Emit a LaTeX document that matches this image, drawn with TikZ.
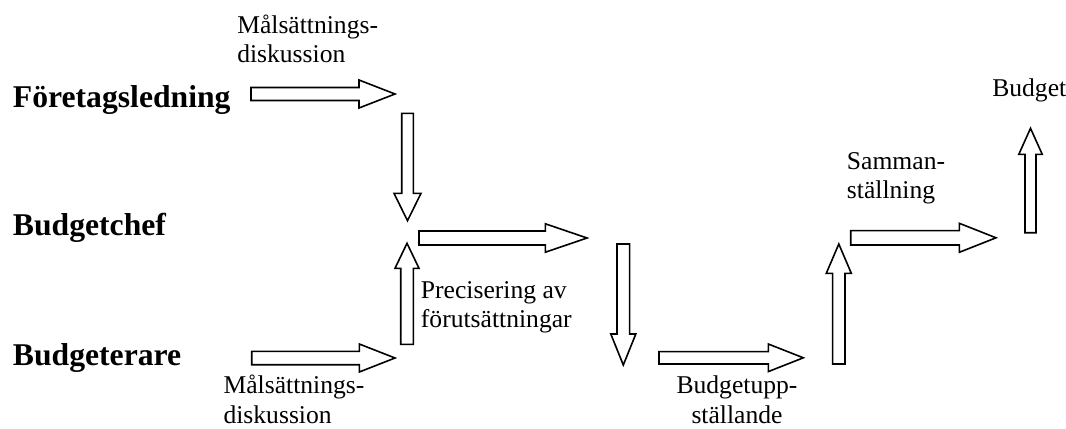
\documentclass[tikz,border=0pt]{standalone}
\usepackage{fontspec}
\setmainfont{Liberation Serif}
\begin{document}
\begin{tikzpicture}[x=0.75pt,y=-0.75pt,
  arrowline/.style={draw=black, fill=white, line width=1.2pt, line join=miter},
  role/.style={font=\fontsize{23.75}{28}\selectfont\bfseries, anchor=base west, inner sep=0pt},
  note/.style={font=\fontsize{19.2}{21.8}\selectfont, anchor=base west, inner sep=0pt, align=left},
  % hollow block arrow: length / shaft half-width / head half-width / head length
  pics/blockarrow/.style args={#1/#2/#3/#4}{code={
    \draw[arrowline] (0,-#2) -- ({#1-#4},-#2) -- ({#1-#4},-#3) -- (#1,0)
      -- ({#1-#4},#3) -- ({#1-#4},#2) -- (0,#2) -- cycle;}},
]
\useasboundingbox (0,0) rectangle (1066,428);

% roles
\node[role] (ftg)  at (12.7,108) {Företagsledning};
\node[role] (chef) at (12.7,235) {Budgetchef};
\node[role] (bud)  at (12.7,365) {Budgeterare};

% step labels (positioned by the baseline of their last line)
\node[note] (mal1)   at (237,62.3)    {Målsättnings-\\diskussion};
\node[note] (mal2)   at (223.3,423)   {Målsättnings-\\diskussion};
\node[note] (prec)   at (420.7,327.3) {Precisering av\\förutsättningar};
\node[note, align=center, anchor=base] (bupp) at (737,423) {Budgetupp-\\ställande};
\node[note] (samm)   at (846.7,198.3) {Samman-\\ställning};
\node[note] (budget) at (992,96.7)    {Budget};

% flow arrows
\pic at (251,94)               {blockarrow=144/6.5/14/36};
\pic[rotate=-90] at (407.5,113.3) {blockarrow=107.4/5.8/13.5/27.4};
\pic[rotate=90]  at (407,344.3)   {blockarrow=101/6.3/12/25};
\pic at (419,238)              {blockarrow=168/7/14.2/41.6};
\pic[rotate=-90] at (623.3,244)   {blockarrow=121/6.3/12.5/31};
\pic at (251.7,358)            {blockarrow=143.3/6.7/14/35.7};
\pic at (659,357.8)            {blockarrow=144.3/6.2/13.8/35};
\pic[rotate=90]  at (838.8,364)   {blockarrow=120/6.2/12.5/29.3};
\pic at (850.7,237.8)          {blockarrow=145.3/7.2/14.5/36.7};
\pic[rotate=90]  at (1030.5,232.7) {blockarrow=104.4/5.5/11.7/26};
\end{tikzpicture}
\end{document}
